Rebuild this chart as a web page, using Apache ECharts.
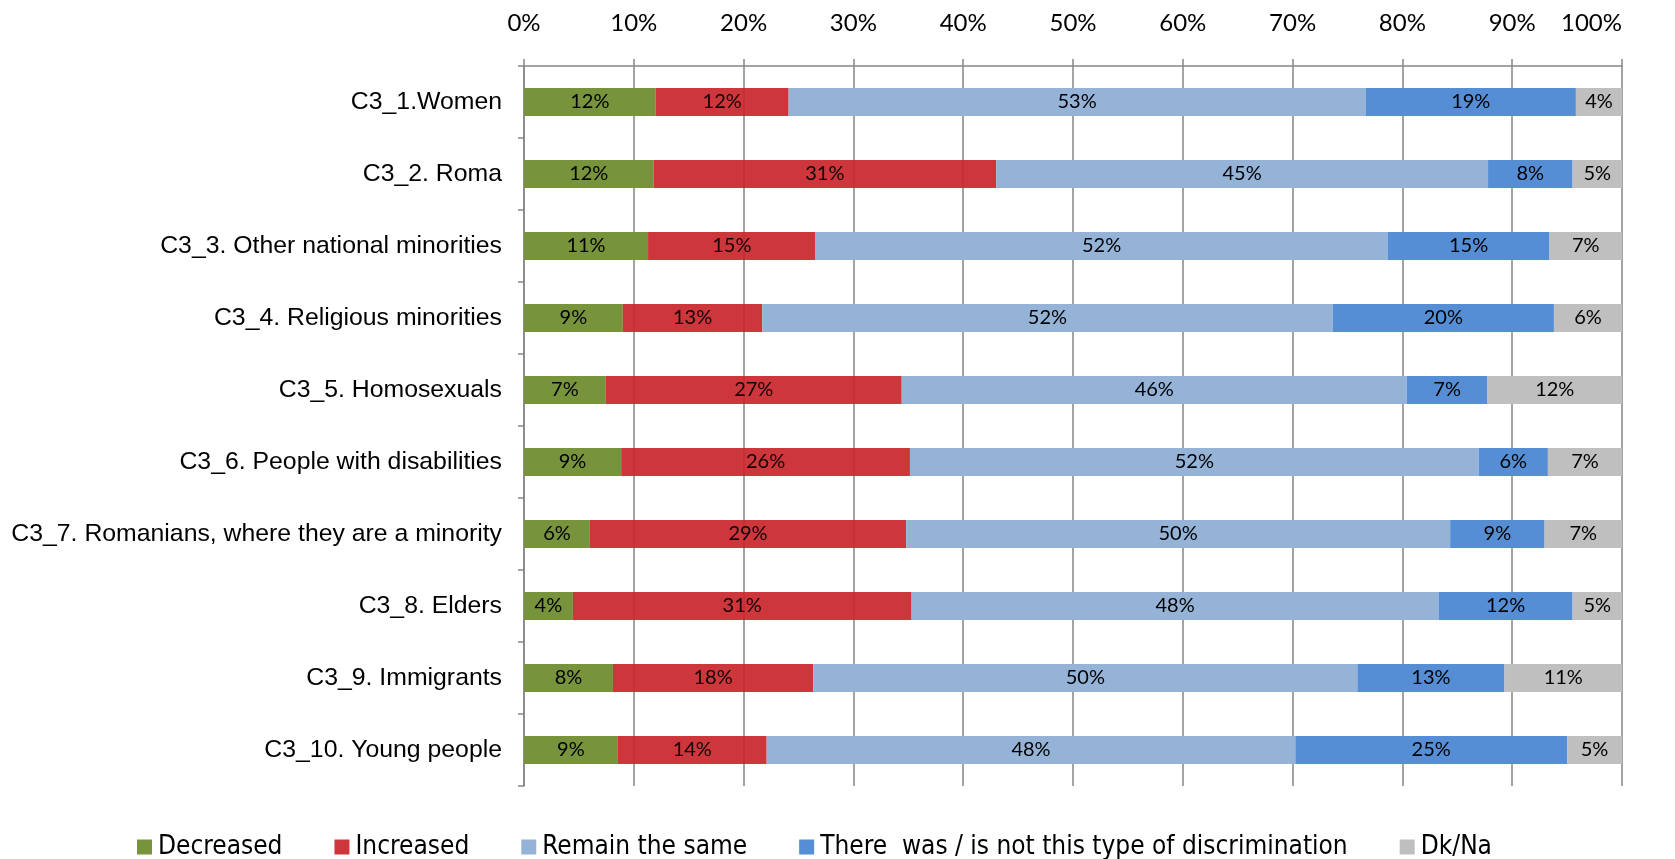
<!DOCTYPE html>
<html>
<head>
<meta charset="utf-8">
<script src="https://cdn.jsdelivr.net/npm/echarts@6/dist/echarts.min.js"></script>
<style>
  html, body { margin: 0; padding: 0; background: #fff; }
  #chart { width: 1675px; height: 859px; }
</style>
</head>
<body>
<div id="chart"></div>
<script>
// categories, top to bottom
var groups = [
  "C3_1.Women",
  "C3_2. Roma",
  "C3_3. Other national minorities",
  "C3_4. Religious minorities",
  "C3_5. Homosexuals",
  "C3_6. People with disabilities",
  "C3_7. Romanians, where they are a minority",
  "C3_8. Elders",
  "C3_9. Immigrants",
  "C3_10. Young people"
];
var xTicks = [0, 10, 20, 30, 40, 50, 60, 70, 80, 90, 100];

// shares in %
var decreased = [12.0, 11.8, 11.3, 9.0, 7.45, 8.85, 6.0, 4.45, 8.1, 8.55];
var increased = [12.1, 31.2, 15.25, 12.7, 26.95, 26.3, 28.8, 30.85, 18.25, 13.55];
var remainSame = [52.55, 44.8, 52.1, 51.95, 46.0, 51.8, 49.55, 48.0, 49.55, 48.15];
var notThisType = [19.15, 7.7, 14.75, 20.15, 7.35, 6.3, 8.6, 12.2, 13.4, 24.75];
var dkNa = [4.2, 4.5, 6.6, 6.2, 12.25, 6.75, 7.05, 4.5, 10.7, 5.0];

var seriesNames = [
  "Decreased",
  "Increased",
  "Remain the same",
  "There  was / is not this type of discrimination",
  "Dk/Na"
];
var seriesData = [decreased, increased, remainSame, notThisType, dkNa];
var colors = ["#77933C", "#C9252A", "#95B3D7", "#558ED5", "#BFBFBF"];

var myChart = echarts.init(document.getElementById("chart"));

var series = seriesData.map(function (d, i) {
  return {
    name: seriesNames[i],
    type: "bar",
    stack: "total",
    barWidth: 28,
    data: d,
    itemStyle: {
      color: colors[i],
      opacity: i == 1 ? 0.92 : 1
    },
    label: {
      show: true,
      position: "inside",
      color: "#000",
      fontFamily: "Lato",
      fontSize: 20,
      formatter: function (p) {
        return Math.round(p.value) + "%";
      }
    }
  };
});

var option = {
  backgroundColor: "#fff",
  animation: false,
  color: colors,
  grid: {
    left: 524,
    right: 53,
    top: 66,
    bottom: 73
  },
  legend: {
    bottom: -6,
    left: 132,
    itemWidth: 15,
    itemHeight: 15,
    itemGap: 52,
    icon: "rect",
    textStyle: {
      fontFamily: "DejaVu Sans Condensed",
      fontStretch: "condensed",
      fontSize: 26,
      color: "#000",
      padding: [0, 0, 0, 1]
    },
    data: seriesNames
  },
  xAxis: {
    type: "value",
    position: "top",
    min: xTicks[0],
    max: xTicks[xTicks.length - 1],
    interval: 10,
    axisLine: { show: true, lineStyle: { color: "#868686", width: 1.5 } },
    axisTick: { show: true, length: 7, lineStyle: { color: "#868686", width: 1.5 } },
    splitLine: { show: true, lineStyle: { color: "#868686", width: 1.5 } },
    axisLabel: {
      margin: 31,
      fontFamily: "Lato",
      fontSize: 24,
      color: "#000",
      alignMaxLabel: "right",
      formatter: "{value}%"
    }
  },
  yAxis: {
    type: "category",
    inverse: true,
    data: groups,
    axisLine: { show: true, lineStyle: { color: "#868686", width: 1.5 } },
    axisTick: { show: true, length: 6, lineStyle: { color: "#868686", width: 1.5 } },
    axisLabel: {
      margin: 22,
      fontFamily: "Liberation Sans",
      fontSize: 24.8,
      color: "#000"
    }
  },
  series: series
};

myChart.setOption(option);
</script>
</body>
</html>
